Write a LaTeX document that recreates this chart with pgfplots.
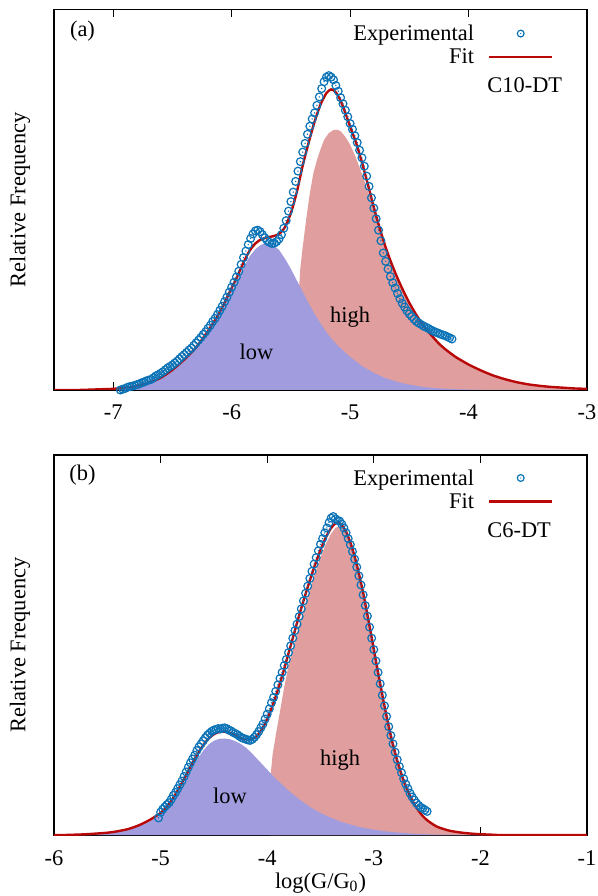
\documentclass[border=0pt]{standalone}
\usepackage{pgfplots}
\pgfplotsset{compat=1.18}
\usepackage{fontspec}
\setmainfont{Liberation Serif}
\definecolor{expblue}{RGB}{10,114,182}
\definecolor{fitred}{RGB}{185,8,8}
\definecolor{lowfill}{RGB}{160,156,222}
\definecolor{highfill}{RGB}{224,158,158}
\pgfdeclareplotmark{codot}{%
  \pgfpathcircle{\pgfpointorigin}{\pgfplotmarksize}\pgfusepathqstroke
  \pgfpathcircle{\pgfpointorigin}{0.2\pgfplotmarksize}\pgfusepathqfill}
\pgfplotsset{
  panel/.style={
    scale only axis, width=266.5pt, anchor=south west,
    ymin=0, ymax=1, ytick=\empty,
    xtick pos=both, tick align=inside, major tick length=4pt,
    axis line style={line width=0.6pt},
    every tick/.style={black, line width=0.6pt},
    font=\fontsize{11.2}{13.4}\selectfont,
    xticklabel style={anchor=base, yshift=-15pt, font=\fontsize{11.2}{13.4}\selectfont},
    ylabel={Relative Frequency},
    ylabel style={at={(axis description cs:-0.0638,0.5)}, anchor=center, font=\fontsize{11.2}{13.4}\selectfont},
    legend cell align=right,
    legend plot pos=right,
    legend style={draw=none, fill=none, column sep=7pt, row sep=0.65pt,
      nodes={inner sep=0pt, text height=9pt, text depth=2pt, font=\fontsize{11.2}{13.4}\selectfont}},
  },
  exp/.style={only marks, mark=codot, mark size=1.95pt,
    mark options={draw=expblue, fill=expblue, line width=0.6pt},
    legend image code/.code={\draw[mark repeat=2,mark phase=2,mark size=1.7pt] plot coordinates {(0pt,0pt) (15.75pt,0pt) (31.5pt,0pt)};}},
  fit/.style={no marks, color=fitred, line width=1.2pt, smooth, tension=0.4,
    legend image code/.code={\draw[##1] (0pt,0pt) -- (31.5pt,0pt);}},
}
\begin{document}
\begin{tikzpicture}
\useasboundingbox (0,0) rectangle (299pt,448pt);
% ---------------- panel (a) ----------------
\begin{axis}[panel, at={(27pt,253pt)}, height=190.3pt,
  xmin=-7.5, xmax=-3, xtick={-7,-6,-5,-4,-3}, xticklabels={-7,-6,-5,-4,-3},
  legend style={at={(axis description cs:0.949,0.977)}, anchor=north east}]
\addplot[draw=none, fill=highfill, forget plot] coordinates {
(-5.44,0.000) (-5.435,0.250) (-5.42,0.320) (-5.40,0.376) (-5.37,0.450) (-5.34,0.517)
(-5.31,0.570) (-5.28,0.604) (-5.25,0.632) (-5.22,0.657) (-5.18,0.675) (-5.14,0.683)
(-5.11,0.684) (-5.08,0.680) (-5.04,0.665) (-5.00,0.645) (-4.96,0.617) (-4.92,0.585)
(-4.88,0.550) (-4.84,0.512) (-4.80,0.472) (-4.75,0.420) (-4.70,0.371) (-4.65,0.328)
(-4.60,0.290) (-4.55,0.257) (-4.50,0.226) (-4.45,0.199) (-4.40,0.175) (-4.35,0.155)
(-4.30,0.137) (-4.25,0.120) (-4.20,0.106) (-4.15,0.094) (-4.10,0.083) (-4.00,0.065)
(-3.90,0.050) (-3.80,0.037) (-3.70,0.027) (-3.60,0.019) (-3.50,0.013) (-3.40,0.009)
(-3.30,0.006) (-3.20,0.004) (-3.10,0.003) (-3.00,0.002)} \closedcycle;
\addplot[draw=none, fill=lowfill, forget plot] coordinates {
(-7.50,0.000) (-7.10,0.001) (-7.00,0.002) (-6.90,0.005) (-6.80,0.010) (-6.70,0.018)
(-6.60,0.030) (-6.50,0.050) (-6.40,0.076) (-6.30,0.108) (-6.20,0.150) (-6.10,0.198)
(-6.00,0.258) (-5.95,0.290) (-5.90,0.322) (-5.85,0.350) (-5.80,0.370) (-5.75,0.382)
(-5.70,0.385) (-5.65,0.381) (-5.60,0.368) (-5.55,0.345) (-5.50,0.318) (-5.45,0.288)
(-5.40,0.258) (-5.35,0.228) (-5.30,0.200) (-5.25,0.175) (-5.20,0.152) (-5.15,0.132)
(-5.10,0.115) (-5.00,0.087) (-4.90,0.063) (-4.80,0.045) (-4.70,0.031) (-4.60,0.021)
(-4.50,0.014) (-4.40,0.009) (-4.30,0.005) (-4.10,0.002) (-3.80,0.000) (-3.00,0.000)} \closedcycle;
\addplot[exp] coordinates {
(-6.98,-0.004) (-6.96,-0.002) (-6.94,0.000) (-6.92,0.002) (-6.90,0.004) (-6.88,0.007)
(-6.86,0.009) (-6.84,0.010) (-6.82,0.012) (-6.80,0.014) (-6.78,0.016) (-6.76,0.019)
(-6.74,0.021) (-6.72,0.024) (-6.70,0.026) (-6.68,0.028) (-6.66,0.032) (-6.64,0.037)
(-6.62,0.040) (-6.60,0.044) (-6.58,0.048) (-6.56,0.053) (-6.54,0.058) (-6.52,0.062)
(-6.50,0.066) (-6.48,0.071) (-6.46,0.076) (-6.44,0.082) (-6.42,0.088) (-6.40,0.093)
(-6.38,0.099) (-6.36,0.105) (-6.34,0.110) (-6.32,0.117) (-6.30,0.124) (-6.28,0.131)
(-6.26,0.138) (-6.24,0.146) (-6.22,0.153) (-6.20,0.162) (-6.18,0.170) (-6.16,0.180)
(-6.14,0.188) (-6.12,0.198) (-6.10,0.209) (-6.08,0.220) (-6.06,0.232) (-6.04,0.244)
(-6.02,0.257) (-6.00,0.270) (-5.98,0.283) (-5.96,0.297) (-5.94,0.312) (-5.92,0.330)
(-5.90,0.348) (-5.88,0.365) (-5.86,0.382) (-5.84,0.398) (-5.82,0.410) (-5.80,0.418)
(-5.78,0.420) (-5.76,0.416) (-5.74,0.408) (-5.72,0.400) (-5.70,0.392) (-5.68,0.388)
(-5.66,0.385) (-5.64,0.386) (-5.62,0.390) (-5.60,0.397) (-5.58,0.408) (-5.56,0.425)
(-5.54,0.445) (-5.52,0.470) (-5.50,0.495) (-5.48,0.520) (-5.46,0.548) (-5.44,0.575)
(-5.42,0.600) (-5.40,0.625) (-5.38,0.648) (-5.36,0.672) (-5.34,0.693) (-5.32,0.712)
(-5.30,0.728) (-5.28,0.748) (-5.26,0.770) (-5.24,0.792) (-5.22,0.810) (-5.20,0.822)
(-5.18,0.826) (-5.16,0.822) (-5.14,0.815) (-5.12,0.800) (-5.10,0.785) (-5.08,0.768)
(-5.06,0.752) (-5.04,0.735) (-5.02,0.718) (-5.00,0.700) (-4.98,0.685) (-4.96,0.668)
(-4.94,0.650) (-4.92,0.630) (-4.90,0.610) (-4.88,0.588) (-4.86,0.562) (-4.84,0.535)
(-4.82,0.505) (-4.80,0.478) (-4.78,0.450) (-4.76,0.420) (-4.74,0.392) (-4.72,0.360)
(-4.70,0.338) (-4.68,0.318) (-4.66,0.298) (-4.64,0.282) (-4.62,0.268) (-4.60,0.254)
(-4.58,0.240) (-4.56,0.228) (-4.54,0.218) (-4.52,0.208) (-4.50,0.200) (-4.48,0.193)
(-4.46,0.186) (-4.44,0.180) (-4.42,0.176) (-4.40,0.172) (-4.38,0.168) (-4.36,0.165)
(-4.34,0.162) (-4.32,0.158) (-4.30,0.155) (-4.28,0.152) (-4.26,0.150) (-4.24,0.147)
(-4.22,0.145) (-4.20,0.143) (-4.18,0.140) (-4.16,0.137) (-4.14,0.134)};
\addlegendentry{Experimental}
\addplot[fit] coordinates {
(-7.50,0.000) (-7.30,0.000) (-7.10,0.002) (-7.00,0.003) (-6.90,0.006) (-6.80,0.011)
(-6.70,0.019) (-6.60,0.032) (-6.50,0.053) (-6.40,0.080) (-6.30,0.112) (-6.20,0.155)
(-6.10,0.205) (-6.00,0.268) (-5.95,0.300) (-5.90,0.335) (-5.85,0.365) (-5.80,0.385)
(-5.75,0.396) (-5.70,0.401) (-5.65,0.404) (-5.60,0.410) (-5.55,0.428) (-5.50,0.465)
(-5.45,0.520) (-5.40,0.590) (-5.35,0.650) (-5.30,0.705) (-5.25,0.750) (-5.20,0.780)
(-5.16,0.790) (-5.12,0.782) (-5.08,0.760) (-5.04,0.728) (-5.00,0.692) (-4.95,0.650)
(-4.90,0.598) (-4.85,0.540) (-4.80,0.480) (-4.75,0.425) (-4.70,0.375) (-4.65,0.332)
(-4.60,0.294) (-4.55,0.260) (-4.50,0.229) (-4.45,0.202) (-4.40,0.178) (-4.35,0.157)
(-4.30,0.139) (-4.25,0.122) (-4.20,0.108) (-4.15,0.096) (-4.10,0.085) (-4.00,0.067)
(-3.90,0.052) (-3.80,0.039) (-3.70,0.029) (-3.60,0.021) (-3.50,0.015) (-3.40,0.011)
(-3.30,0.008) (-3.20,0.006) (-3.10,0.004) (-3.00,0.003)};
\addlegendentry{Fit}
\node[anchor=base] at (axis description cs:0.0535,0.930) {(a)};
\node[anchor=base west] at (axis description cs:0.80,0.781) {C10-DT};
\node[anchor=base] at (axis cs:-5.79,0.079) {low};
\node[anchor=base] at (axis cs:-5.00,0.178) {high};
\end{axis}
% ---------------- panel (b) ----------------
\begin{axis}[panel, at={(27pt,30.5pt)}, height=190pt,
  xmin=-6, xmax=-1, xtick={-6,-5,-4,-3,-2,-1}, xticklabels={-6,-5,-4,-3,-2,-1},
  xlabel={log(G/G\textsubscript{0})},
  xlabel style={at={(axis description cs:0.5,0)}, anchor=base, yshift=-26.5pt, font=\fontsize{11.2}{13.4}\selectfont},
  legend style={at={(axis description cs:0.949,0.980)}, anchor=north east}]
\addplot[draw=none, fill=highfill, forget plot] coordinates {
(-3.975,0.000) (-3.97,0.150) (-3.95,0.210) (-3.92,0.262) (-3.88,0.325) (-3.84,0.390)
(-3.80,0.445) (-3.75,0.500) (-3.70,0.552) (-3.65,0.600) (-3.60,0.645) (-3.55,0.690)
(-3.50,0.730) (-3.45,0.766) (-3.40,0.793) (-3.36,0.808) (-3.33,0.812) (-3.30,0.807)
(-3.26,0.792) (-3.22,0.765) (-3.18,0.728) (-3.14,0.684) (-3.10,0.634) (-3.06,0.576)
(-3.02,0.516) (-2.98,0.454) (-2.94,0.394) (-2.90,0.336) (-2.86,0.283) (-2.82,0.235)
(-2.78,0.193) (-2.74,0.157) (-2.70,0.127) (-2.65,0.095) (-2.60,0.070) (-2.55,0.051)
(-2.50,0.037) (-2.45,0.027) (-2.40,0.019) (-2.30,0.010) (-2.20,0.005) (-2.10,0.003)
(-2.00,0.002) (-1.80,0.001) (-1.57,0.000)} \closedcycle;
\addplot[draw=none, fill=lowfill, forget plot] coordinates {
(-6.00,0.000) (-5.70,0.001) (-5.50,0.005) (-5.30,0.014) (-5.10,0.036) (-5.00,0.053)
(-4.90,0.083) (-4.80,0.128) (-4.70,0.180) (-4.60,0.222) (-4.55,0.238) (-4.50,0.248)
(-4.45,0.253) (-4.40,0.254) (-4.35,0.252) (-4.30,0.247) (-4.25,0.240) (-4.20,0.230)
(-4.15,0.217) (-4.10,0.202) (-4.05,0.187) (-4.00,0.172) (-3.95,0.157) (-3.90,0.143)
(-3.80,0.117) (-3.70,0.094) (-3.60,0.074) (-3.50,0.058) (-3.40,0.045) (-3.30,0.034)
(-3.20,0.026) (-3.10,0.019) (-3.00,0.014) (-2.90,0.010) (-2.80,0.007) (-2.60,0.003)
(-2.40,0.001) (-2.20,0.000) (-1.00,0.000)} \closedcycle;
\addplot[exp] coordinates {
(-5.02,0.045) (-5.00,0.060) (-4.98,0.068) (-4.96,0.074) (-4.94,0.080) (-4.92,0.085)
(-4.90,0.094) (-4.88,0.104) (-4.86,0.112) (-4.84,0.122) (-4.82,0.132) (-4.80,0.142)
(-4.78,0.154) (-4.76,0.166) (-4.74,0.178) (-4.72,0.190) (-4.70,0.200) (-4.68,0.210)
(-4.66,0.222) (-4.64,0.232) (-4.62,0.240) (-4.60,0.248) (-4.58,0.256) (-4.56,0.263)
(-4.54,0.268) (-4.52,0.273) (-4.50,0.276) (-4.48,0.278) (-4.46,0.280) (-4.44,0.279)
(-4.42,0.281) (-4.40,0.282) (-4.38,0.280) (-4.36,0.276) (-4.34,0.274) (-4.32,0.270)
(-4.30,0.267) (-4.28,0.264) (-4.26,0.260) (-4.24,0.256) (-4.22,0.254) (-4.20,0.252)
(-4.18,0.250) (-4.16,0.249) (-4.14,0.252) (-4.12,0.257) (-4.10,0.264) (-4.08,0.272)
(-4.06,0.282) (-4.04,0.292) (-4.02,0.305) (-4.00,0.318) (-3.98,0.332) (-3.96,0.348)
(-3.94,0.362) (-3.92,0.378) (-3.90,0.395) (-3.88,0.412) (-3.86,0.428) (-3.84,0.446)
(-3.82,0.462) (-3.80,0.480) (-3.78,0.498) (-3.76,0.518) (-3.74,0.538) (-3.72,0.555)
(-3.70,0.575) (-3.68,0.595) (-3.66,0.616) (-3.64,0.636) (-3.62,0.655) (-3.60,0.675)
(-3.58,0.694) (-3.56,0.713) (-3.54,0.730) (-3.52,0.748) (-3.50,0.765) (-3.48,0.780)
(-3.46,0.795) (-3.44,0.808) (-3.42,0.822) (-3.40,0.834) (-3.38,0.838) (-3.36,0.832)
(-3.34,0.828) (-3.32,0.826) (-3.30,0.818) (-3.28,0.808) (-3.26,0.795) (-3.24,0.780)
(-3.22,0.764) (-3.20,0.746) (-3.18,0.726) (-3.16,0.705) (-3.14,0.682) (-3.12,0.658)
(-3.10,0.632) (-3.08,0.604) (-3.06,0.576) (-3.04,0.547) (-3.02,0.518) (-3.00,0.488)
(-2.98,0.458) (-2.96,0.428) (-2.94,0.398) (-2.92,0.368) (-2.90,0.340) (-2.88,0.312)
(-2.86,0.285) (-2.84,0.262) (-2.82,0.240) (-2.80,0.218) (-2.78,0.198) (-2.76,0.180)
(-2.74,0.164) (-2.72,0.148) (-2.70,0.134) (-2.68,0.122) (-2.66,0.110) (-2.64,0.100)
(-2.62,0.092) (-2.60,0.084) (-2.58,0.078) (-2.56,0.073) (-2.54,0.070) (-2.52,0.066)
(-2.50,0.062)};
\addlegendentry{Experimental}
\addplot[fit] coordinates {
(-6.00,0.000) (-5.90,0.000) (-5.70,0.002) (-5.50,0.006) (-5.40,0.010) (-5.30,0.016)
(-5.20,0.026) (-5.10,0.040) (-5.00,0.058) (-4.95,0.072) (-4.90,0.090) (-4.85,0.112)
(-4.80,0.137) (-4.75,0.163) (-4.70,0.190) (-4.65,0.215) (-4.60,0.236) (-4.55,0.254)
(-4.50,0.265) (-4.45,0.271) (-4.40,0.272) (-4.35,0.268) (-4.30,0.262) (-4.25,0.256)
(-4.20,0.252) (-4.15,0.252) (-4.10,0.260) (-4.05,0.278) (-4.00,0.305) (-3.95,0.340)
(-3.90,0.382) (-3.85,0.428) (-3.80,0.478) (-3.75,0.528) (-3.70,0.578) (-3.65,0.625)
(-3.60,0.670) (-3.55,0.712) (-3.50,0.750) (-3.45,0.783) (-3.40,0.808) (-3.36,0.820)
(-3.33,0.822) (-3.30,0.815) (-3.26,0.798) (-3.22,0.770) (-3.18,0.733) (-3.14,0.688)
(-3.10,0.638) (-3.06,0.580) (-3.02,0.520) (-2.98,0.458) (-2.94,0.398) (-2.90,0.340)
(-2.86,0.286) (-2.82,0.238) (-2.78,0.196) (-2.74,0.160) (-2.70,0.129) (-2.65,0.097)
(-2.60,0.072) (-2.55,0.053) (-2.50,0.039) (-2.45,0.029) (-2.40,0.021) (-2.30,0.012)
(-2.20,0.007) (-2.10,0.004) (-2.00,0.002) (-1.90,0.001) (-1.80,0.000) (-1.00,0.000)};
\addlegendentry{Fit}
\node[anchor=base] at (axis description cs:0.0535,0.934) {(b)};
\node[anchor=base west] at (axis description cs:0.80,0.783) {C6-DT};
\node[anchor=base] at (axis cs:-4.35,0.082) {low};
\node[anchor=base] at (axis cs:-3.316,0.182) {high};
\end{axis}
\end{tikzpicture}
\end{document}
